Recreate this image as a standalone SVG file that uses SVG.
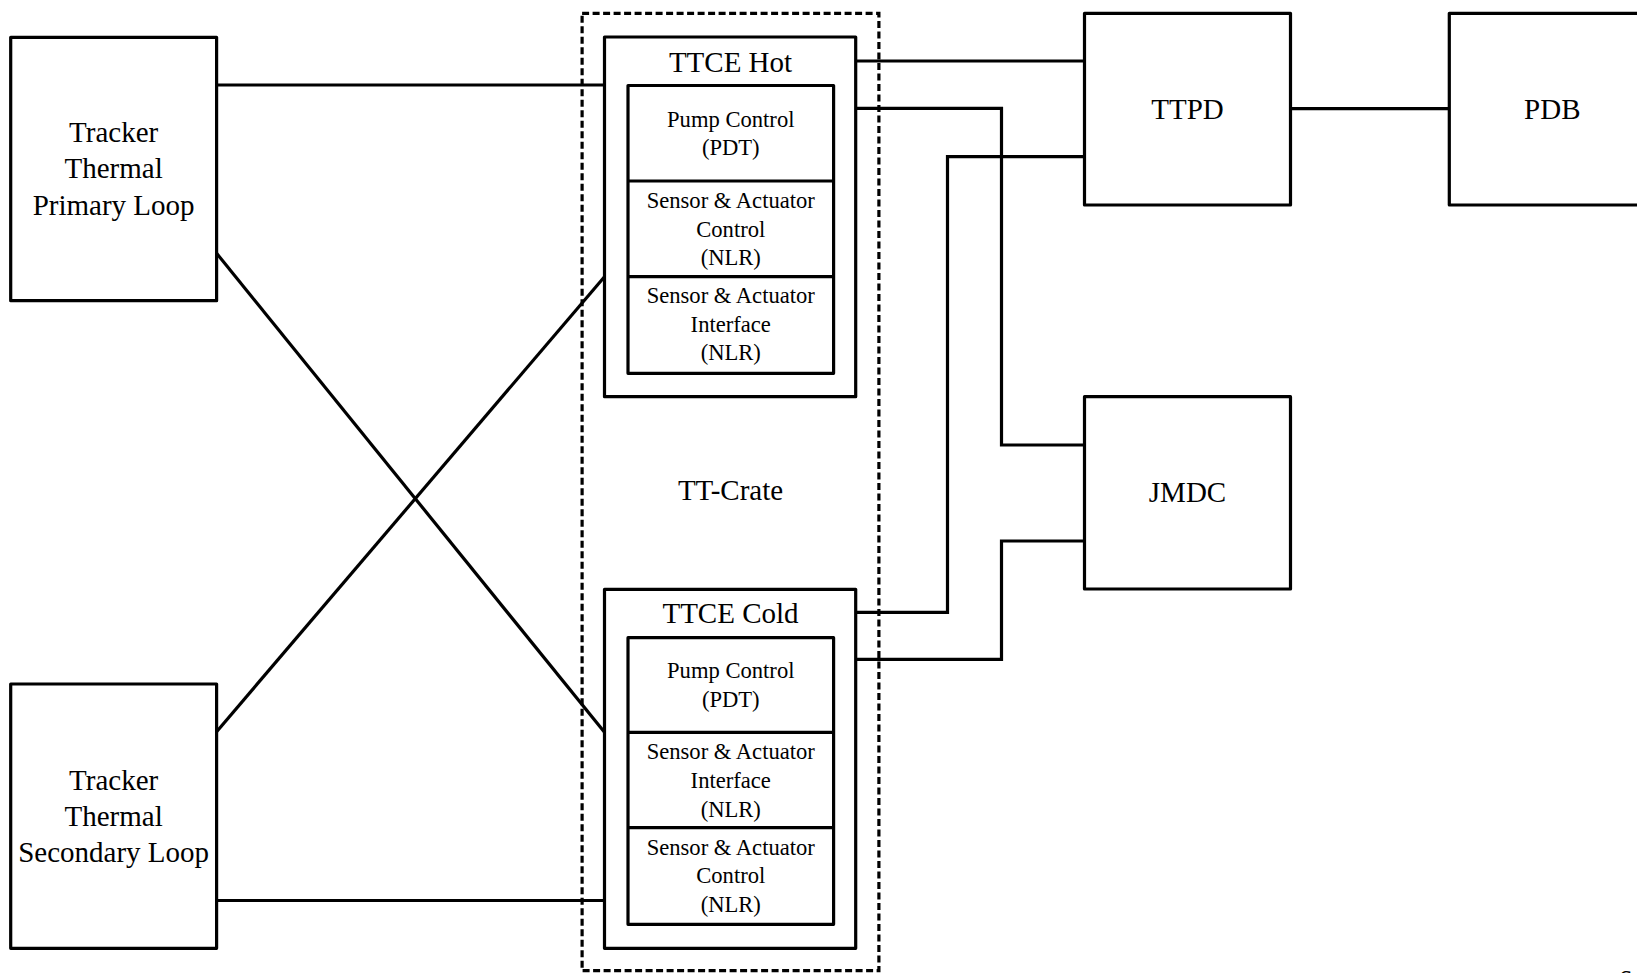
<svg xmlns="http://www.w3.org/2000/svg" width="1637" height="973" viewBox="0 0 1637 973">
<style>
.box{fill:#fff;stroke:#000;stroke-width:3.2;stroke-linejoin:round}
.inner{fill:none;stroke:#000;stroke-width:3.2;stroke-linejoin:round}
.crate{fill:none;stroke:#000;stroke-width:3.2;stroke-dasharray:7 3.5}
.conn{fill:none;stroke:#000;stroke-width:3.2}
.big{font-family:"Liberation Serif","Times New Roman",serif;font-size:29px;fill:#000;text-anchor:middle}
.small{font-family:"Liberation Serif","Times New Roman",serif;font-size:22.6px;fill:#000;text-anchor:middle}
</style>
<rect width="1637" height="973" fill="#fff"/>
<g id="connectors">
<path class="conn" d="M216.6 85 H604.5"/>
<path class="conn" d="M216.6 253.3 L604.5 732.3"/>
<path class="conn" d="M216.6 731.7 L604.5 276.7"/>
<path class="conn" d="M216.6 900.5 H604.5"/>
<path class="conn" d="M855.7 61 H1084.5"/>
<path class="conn" d="M855.7 108.3 H1001.5 V445 H1084.5"/>
<path class="conn" d="M855.7 612.3 H947.5 V156.7 H1084.5"/>
<path class="conn" d="M855.7 659.3 H1001.5 V541 H1084.5"/>
<path class="conn" d="M1290.5 108.7 H1449.3"/>
</g>
<g id="tt-crate">
<rect class="crate" x="582.1" y="13.3" width="296.8" height="957.4"/>
<text class="big" x="730.5" y="500">TT-Crate</text>
</g>
<g id="primary-loop">
<rect class="box" x="10.7" y="37.3" width="205.9" height="263.4"/>
<text class="big" x="113.6" y="141.7">Tracker</text>
<text class="big" x="113.6" y="178.3">Thermal</text>
<text class="big" x="113.6" y="215">Primary Loop</text>
</g>
<g id="secondary-loop">
<rect class="box" x="10.7" y="684" width="205.9" height="264.3"/>
<text class="big" x="113.6" y="790">Tracker</text>
<text class="big" x="113.6" y="825.7">Thermal</text>
<text class="big" x="113.6" y="861.7">Secondary Loop</text>
</g>
<g id="ttce-hot">
<rect class="box" x="604.5" y="37" width="251.2" height="359.7"/>
<text class="big" x="730.5" y="71.7">TTCE Hot</text>
<rect class="inner" x="628" y="85.5" width="205.6" height="287.8"/>
<path class="conn" d="M628 181 H833.6 M628 276.7 H833.6"/>
<text class="small" x="730.75" y="126.7">Pump Control</text>
<text class="small" x="730.75" y="155">(PDT)</text>
<text class="small" x="730.75" y="208.3">Sensor &amp; Actuator</text>
<text class="small" x="730.75" y="236.7">Control</text>
<text class="small" x="730.75" y="265">(NLR)</text>
<text class="small" x="730.75" y="303.3">Sensor &amp; Actuator</text>
<text class="small" x="730.75" y="331.7">Interface</text>
<text class="small" x="730.75" y="360">(NLR)</text>
</g>
<g id="ttce-cold">
<rect class="box" x="604.5" y="589.3" width="251.2" height="359"/>
<text class="big" x="730.5" y="622.7">TTCE Cold</text>
<rect class="inner" x="628" y="637.7" width="205.6" height="286.6"/>
<path class="conn" d="M628 732.3 H833.6 M628 827.7 H833.6"/>
<text class="small" x="730.75" y="678.3">Pump Control</text>
<text class="small" x="730.75" y="706.7">(PDT)</text>
<text class="small" x="730.75" y="759.3">Sensor &amp; Actuator</text>
<text class="small" x="730.75" y="788.3">Interface</text>
<text class="small" x="730.75" y="816.7">(NLR)</text>
<text class="small" x="730.75" y="855">Sensor &amp; Actuator</text>
<text class="small" x="730.75" y="883.3">Control</text>
<text class="small" x="730.75" y="911.7">(NLR)</text>
</g>
<g id="ttpd">
<rect class="box" x="1084.5" y="13.3" width="206" height="191.7"/>
<text class="big" x="1187.5" y="119.3">TTPD</text>
</g>
<g id="pdb">
<rect class="box" x="1449.3" y="13.3" width="206" height="191.7"/>
<text class="big" x="1552.3" y="119.3">PDB</text>
</g>
<g id="jmdc">
<rect class="box" x="1084.5" y="396.7" width="206" height="192.3"/>
<text class="big" x="1187.5" y="501.7">JMDC</text>
</g>
<g id="page-number">
<text class="big" x="1625" y="990">6</text>
</g>
</svg>
